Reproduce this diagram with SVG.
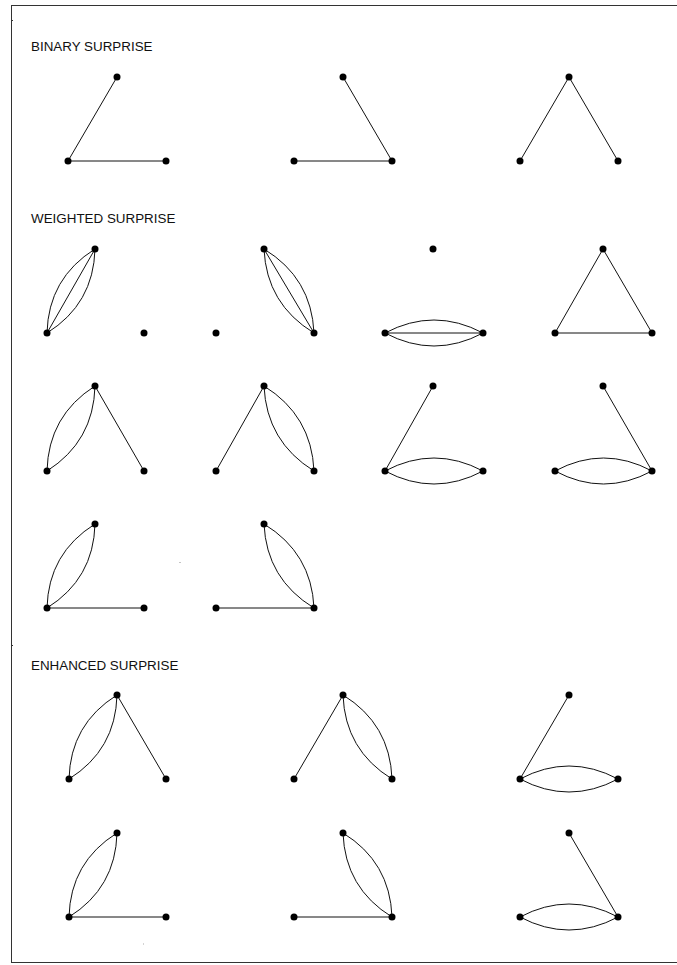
<svg xmlns="http://www.w3.org/2000/svg" width="677" height="965" viewBox="0 0 677 965">
<style>
.e{fill:none;stroke:#111;stroke-width:1}
.d{fill:#000}
.t{font-family:"Liberation Sans",Arial,sans-serif;font-size:13.4px;fill:#111}
.f{fill:none;stroke:#333;stroke-width:1}
</style>
<rect width="677" height="965" fill="#fff"/>
<g id="frame">
<path class="f" d="M11,5.5H677M11.5,5V963M11,962.5H677M11,20.5H13M11,645.5H13"/>
<rect x="179.5" y="562" width="1" height="1" fill="#888"/>
<rect x="143" y="943.5" width="1" height="1" fill="#aaa"/>
</g>
<g id="labels">
<text class="t" x="31" y="51">BINARY SURPRISE</text>
<text class="t" x="31" y="223">WEIGHTED SURPRISE</text>
<text class="t" x="31" y="670">ENHANCED SURPRISE</text>
</g>
<g id="connectors">
<path class="e" d="M117,77L68,161L166,161"/>
<path class="e" d="M343,77L392,161L294,161"/>
<path class="e" d="M520,161L569,77L618,161"/>
<path class="e" d="M95,249L47,333M95,249Q93.6,303.9 47,333M95,249Q48.4,278.1 47,333"/>
<path class="e" d="M264,249L314,333M264,249Q311.5,277.9 314,333M264,249Q266.5,304.1 314,333"/>
<path class="e" d="M385,333L483,333M385,333Q434,307 483,333M385,333Q434,359 483,333"/>
<path class="e" d="M603,249L555,333L652,333Z"/>
<path class="e" d="M95,386Q93.6,441.4 47,471M95,386Q48.4,415.6 47,471M95,386L144,471"/>
<path class="e" d="M264,386L216,471M264,386Q311.5,415.4 314,471M264,386Q266.5,441.6 314,471"/>
<path class="e" d="M433,386L385,471M385,471Q434,445 483,471M385,471Q434,497 483,471"/>
<path class="e" d="M603,386L652,471M555,471Q603.5,445 652,471M555,471Q603.5,497 652,471"/>
<path class="e" d="M95,524Q93.6,578.9 47,608M95,524Q48.4,553.1 47,608M47,608L144,608"/>
<path class="e" d="M264,524Q311.5,552.9 314,608M264,524Q266.5,579.1 314,608M216,608L314,608"/>
<path class="e" d="M117,695Q115.6,749.9 69,779M117,695Q70.4,724.1 69,779M117,695L166,779"/>
<path class="e" d="M343,695L294,779M343,695Q390,723.9 392,779M343,695Q345,750.1 392,779"/>
<path class="e" d="M569,695L520,779M520,779Q569,753 618,779M520,779Q569,805 618,779"/>
<path class="e" d="M117,833Q115.6,887.9 69,917M117,833Q70.4,862.1 69,917M69,917L166,917"/>
<path class="e" d="M343,833Q390,861.9 392,917M343,833Q345,888.1 392,917M294,917L392,917"/>
<path class="e" d="M569,833L618,917M520,917Q569,891 618,917M520,917Q569,943 618,917"/>
</g>
<g id="nodes">
<g id="b1"><circle class="d" cx="117" cy="77" r="3.5"/><circle class="d" cx="68" cy="161" r="3.5"/><circle class="d" cx="166" cy="161" r="3.5"/></g>
<g id="b2"><circle class="d" cx="343" cy="77" r="3.5"/><circle class="d" cx="294" cy="161" r="3.5"/><circle class="d" cx="392" cy="161" r="3.5"/></g>
<g id="b3"><circle class="d" cx="569" cy="77" r="3.5"/><circle class="d" cx="520" cy="161" r="3.5"/><circle class="d" cx="618" cy="161" r="3.5"/></g>
<g id="w1"><circle class="d" cx="95" cy="249" r="3.5"/><circle class="d" cx="47" cy="333" r="3.5"/><circle class="d" cx="144" cy="333" r="3.5"/></g>
<g id="w2"><circle class="d" cx="264" cy="249" r="3.5"/><circle class="d" cx="216" cy="333" r="3.5"/><circle class="d" cx="314" cy="333" r="3.5"/></g>
<g id="w3"><circle class="d" cx="433" cy="249" r="3.5"/><circle class="d" cx="385" cy="333" r="3.5"/><circle class="d" cx="483" cy="333" r="3.5"/></g>
<g id="w4"><circle class="d" cx="603" cy="249" r="3.5"/><circle class="d" cx="555" cy="333" r="3.5"/><circle class="d" cx="652" cy="333" r="3.5"/></g>
<g id="w5"><circle class="d" cx="95" cy="386" r="3.5"/><circle class="d" cx="47" cy="471" r="3.5"/><circle class="d" cx="144" cy="471" r="3.5"/></g>
<g id="w6"><circle class="d" cx="264" cy="386" r="3.5"/><circle class="d" cx="216" cy="471" r="3.5"/><circle class="d" cx="314" cy="471" r="3.5"/></g>
<g id="w7"><circle class="d" cx="433" cy="386" r="3.5"/><circle class="d" cx="385" cy="471" r="3.5"/><circle class="d" cx="483" cy="471" r="3.5"/></g>
<g id="w8"><circle class="d" cx="603" cy="386" r="3.5"/><circle class="d" cx="555" cy="471" r="3.5"/><circle class="d" cx="652" cy="471" r="3.5"/></g>
<g id="w9"><circle class="d" cx="95" cy="524" r="3.5"/><circle class="d" cx="47" cy="608" r="3.5"/><circle class="d" cx="144" cy="608" r="3.5"/></g>
<g id="w10"><circle class="d" cx="264" cy="524" r="3.5"/><circle class="d" cx="216" cy="608" r="3.5"/><circle class="d" cx="314" cy="608" r="3.5"/></g>
<g id="e1"><circle class="d" cx="117" cy="695" r="3.5"/><circle class="d" cx="69" cy="779" r="3.5"/><circle class="d" cx="166" cy="779" r="3.5"/></g>
<g id="e2"><circle class="d" cx="343" cy="695" r="3.5"/><circle class="d" cx="294" cy="779" r="3.5"/><circle class="d" cx="392" cy="779" r="3.5"/></g>
<g id="e3"><circle class="d" cx="569" cy="695" r="3.5"/><circle class="d" cx="520" cy="779" r="3.5"/><circle class="d" cx="618" cy="779" r="3.5"/></g>
<g id="e4"><circle class="d" cx="117" cy="833" r="3.5"/><circle class="d" cx="69" cy="917" r="3.5"/><circle class="d" cx="166" cy="917" r="3.5"/></g>
<g id="e5"><circle class="d" cx="343" cy="833" r="3.5"/><circle class="d" cx="294" cy="917" r="3.5"/><circle class="d" cx="392" cy="917" r="3.5"/></g>
<g id="e6"><circle class="d" cx="569" cy="833" r="3.5"/><circle class="d" cx="520" cy="917" r="3.5"/><circle class="d" cx="618" cy="917" r="3.5"/></g>
</g>
</svg>
